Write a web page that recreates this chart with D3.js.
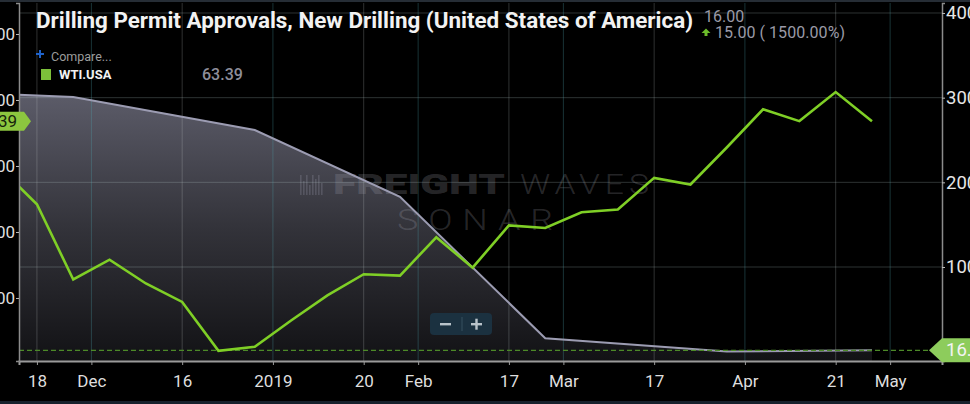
<!DOCTYPE html>
<html>
<head>
<meta charset="utf-8">
<script src="https://cdn.jsdelivr.net/npm/d3@7.9.0/dist/d3.min.js"></script>
<style>
  body { margin: 0; background: #000; overflow: hidden; }
  svg { display: block; font-family: Roboto, "Noto Sans", sans-serif; }
</style>
</head>
<body>
<svg id="chart" width="970" height="404"></svg>
<script>
// weekly WTI closes (left axis)
const wtiDates = [
  '2018-11-11', '2018-11-18', '2018-11-25', '2018-12-02', '2018-12-09',
  '2018-12-16', '2018-12-23', '2018-12-30', '2019-01-06', '2019-01-13',
  '2019-01-20', '2019-01-27', '2019-02-03', '2019-02-10', '2019-02-17',
  '2019-02-24', '2019-03-03', '2019-03-10', '2019-03-17', '2019-03-24',
  '2019-03-31', '2019-04-07', '2019-04-14', '2019-04-21', '2019-04-28'
];
const wtiValues = [
  59.8, 57.1, 51.4, 52.9, 51.1,
  49.7, 46.0, 46.3, 48.3, 50.2,
  51.8, 51.7, 54.6, 52.3, 55.5,
  55.3, 56.5, 56.7, 59.1, 58.6,
  61.4, 64.3, 63.4, 65.6, 63.39
];

// monthly drilling permit approvals (right axis)
const permitDates = ['2018-10-28', '2018-11-25', '2018-12-30', '2019-01-27', '2019-02-24', '2019-03-31', '2019-04-28'];
const permitValues = [3075, 3008, 2618, 1830, 158, 1, 16];

const wtiTicks = [50, 55, 60, 65, 70];
const permitTicks = [1000, 2000, 3000, 4000];
const dayTicks = ['2018-11-18', '2018-12-16', '2019-01-20', '2019-02-17', '2019-03-17', '2019-04-21'];
const monthTicks = ['2018-12-01', '2019-01-01', '2019-02-01', '2019-03-01', '2019-04-01', '2019-05-01'];

const title = 'Drilling Permit Approvals, New Drilling (United States of America)';
const lastPermit = 16.00;
const permitChange = 15.00;
const permitChangePct = 1500.00;

const parse = d3.timeParse('%Y-%m-%d');
const wti = wtiDates.map((d, i) => ({ date: parse(d), value: wtiValues[i] }));
const permits = permitDates.map((d, i) => ({ date: parse(d), value: permitValues[i] }));
const lastWti = wti[wti.length - 1].value;

const width = 970;
const height = 404;
const plot = { left: 19, right: 942, top: 3, bottom: 361 };

const svg = d3.select('#chart');

const x = d3.scaleTime()
  .domain([new Date(2018, 10, 14, 13), new Date(2019, 4, 11, 12)])
  .range([plot.left, plot.right]);

const yL = d3.scaleLinear().domain([45.227, 72.348]).range([plot.bottom, plot.top]);
const yR = d3.scaleLinear().domain([-110, 4118]).range([plot.bottom, plot.top]);

// month labels sit between the two weekly bars that straddle the month change
const ticks = [
  ...dayTicks.map(s => {
    const d = parse(s);
    return { pos: d, label: d3.timeFormat('%-d')(d), kind: 'day' };
  }),
  ...monthTicks.map(s => {
    const d = parse(s);
    return {
      pos: d3.timeHour.offset(d3.timeWeek.floor(d), 84),
      label: d.getMonth() === 0 ? d3.timeFormat('%Y')(d) : d3.timeFormat('%b')(d),
      kind: 'month'
    };
  })
].sort((a, b) => a.pos - b.pos);

// frame strips
svg.append('rect').attr('x', 0).attr('y', 0).attr('width', width).attr('height', 2).attr('fill', '#262d35');
svg.append('rect').attr('x', 0).attr('y', 401).attr('width', width).attr('height', 3).attr('fill', '#17222d');

const defs = svg.append('defs');
defs.append('clipPath').attr('id', 'plot-clip')
  .append('rect')
  .attr('x', plot.left).attr('y', plot.top)
  .attr('width', plot.right - plot.left).attr('height', plot.bottom - plot.top);

const grad = defs.append('linearGradient')
  .attr('id', 'area-grad')
  .attr('gradientUnits', 'userSpaceOnUse')
  .attr('x1', 0).attr('x2', 0)
  .attr('y1', yR(3050)).attr('y2', plot.bottom);
grad.append('stop').attr('offset', 0).attr('stop-color', '#5c5c69');
grad.append('stop').attr('offset', 0.5).attr('stop-color', '#33333a');
grad.append('stop').attr('offset', 1).attr('stop-color', '#121215');

const g = svg.append('g').attr('clip-path', 'url(#plot-clip)');

// permits area
const area = d3.area()
  .x(d => x(d.date))
  .y0(plot.bottom)
  .y1(d => yR(d.value));
g.append('path').datum(permits).attr('d', area).attr('fill', 'url(#area-grad)');

// watermark
const wm = g.append('g').attr('fill', 'rgba(165,165,178,0.24)');
[0, 1, 2, 3, 4, 5, 6, 7].forEach(i => {
  const h = [20, 14, 20, 10, 20, 16, 20, 12][i];
  wm.append('rect').attr('x', 300 + i * 3).attr('y', 195 - h).attr('width', 1.6).attr('height', h);
});
wm.append('text').attr('x', 333).attr('y', 194)
  .attr('font-size', 27).attr('font-weight', 900)
  .attr('textLength', 172).attr('lengthAdjust', 'spacingAndGlyphs')
  .text('FREIGHT');
wm.append('text').attr('x', 520).attr('y', 194)
  .attr('font-size', 27).attr('font-weight', 300).attr('letter-spacing', 4)
  .attr('textLength', 134).attr('lengthAdjust', 'spacingAndGlyphs')
  .text('WAVES');
wm.append('text').attr('x', 397).attr('y', 230)
  .attr('font-size', 29).attr('font-weight', 300).attr('letter-spacing', 8)
  .attr('textLength', 166).attr('lengthAdjust', 'spacingAndGlyphs')
  .text('SONAR');

// gridlines
g.append('g').selectAll('line')
  .data(permitTicks)
  .join('line')
  .attr('x1', plot.left).attr('x2', plot.right)
  .attr('y1', d => yR(d)).attr('y2', d => yR(d))
  .attr('stroke', 'rgba(190,210,210,0.24)');

g.append('g').selectAll('line')
  .data(ticks)
  .join('line')
  .attr('x1', d => x(d.pos)).attr('x2', d => x(d.pos))
  .attr('y1', plot.top).attr('y2', plot.bottom)
  .attr('stroke', d => d.kind === 'month' ? 'rgba(80,170,180,0.3)' : 'rgba(195,205,205,0.24)');

// permits outline
g.append('path').datum(permits)
  .attr('d', d3.line().x(d => x(d.date)).y(d => yR(d.value)))
  .attr('fill', 'none').attr('stroke', '#9c9cb2').attr('stroke-width', 2);

// last-value dashed line
g.append('line')
  .attr('x1', plot.left).attr('x2', 929)
  .attr('y1', yR(lastPermit)).attr('y2', yR(lastPermit))
  .attr('stroke', '#4d8a28').attr('stroke-width', 1.2).attr('stroke-dasharray', '5,3');

// WTI line
g.append('path').datum(wti)
  .attr('d', d3.line().x(d => x(d.date)).y(d => yL(d.value)))
  .attr('fill', 'none').attr('stroke', '#7fcf26').attr('stroke-width', 2.6)
  .attr('stroke-linejoin', 'miter');

// axes
const xAxis = svg.append('g')
  .attr('transform', `translate(0,${plot.bottom})`)
  .call(d3.axisBottom(x)
    .tickValues(ticks.map(t => t.pos))
    .tickFormat((d, i) => ticks[i].label)
    .tickSizeOuter(0).tickSize(4).tickPadding(10));
xAxis.select('.domain').attr('stroke', '#9a9a9a').attr('stroke-width', 2);
xAxis.selectAll('.tick line').attr('stroke', '#9a9a9a');
xAxis.selectAll('text').attr('fill', '#dedede').attr('font-size', 17).attr('font-family', 'Roboto');

const leftAxis = svg.append('g')
  .attr('transform', `translate(${plot.left},0)`)
  .call(d3.axisLeft(yL).tickValues(wtiTicks).tickFormat(d3.format('.2f'))
    .tickSizeOuter(0).tickSize(3).tickPadding(1));
leftAxis.select('.domain').attr('stroke', '#8c8c8c').attr('stroke-width', 1.5);
leftAxis.selectAll('.tick line').attr('stroke', '#bbb');
leftAxis.selectAll('text').attr('fill', '#dedede').attr('font-size', 17).attr('font-family', 'Roboto');

const rightAxis = svg.append('g')
  .attr('transform', `translate(${plot.right},0)`)
  .call(d3.axisRight(yR).tickValues(permitTicks).tickFormat(d3.format('d'))
    .tickSizeOuter(0).tickSize(3).tickPadding(1));
rightAxis.select('.domain').attr('stroke', '#8c8c8c').attr('stroke-width', 1.5);
rightAxis.selectAll('.tick line').attr('stroke', '#bbb');
rightAxis.selectAll('text').attr('fill', '#e6e6e6').attr('font-size', 18.5).attr('font-family', 'Roboto');

// value tags
const ty = yL(lastWti);
svg.append('polygon')
  .attr('points', [[0, ty - 9.5], [24, ty - 9.5], [31, ty], [24, ty + 9.5], [0, ty + 9.5]].join(' '))
  .attr('fill', '#8cc63f');
svg.append('text').attr('x', 17).attr('y', ty + 6)
  .attr('text-anchor', 'end').attr('font-size', 17).attr('fill', '#17230c')
  .text(d3.format('.2f')(lastWti));

const ry = yR(lastPermit);
svg.append('polygon')
  .attr('points', [[929, ry], [942, ry - 12], [970, ry - 12], [970, ry + 12], [942, ry + 12]].join(' '))
  .attr('fill', '#8dcc5c');
svg.append('text').attr('x', 946).attr('y', ry + 6)
  .attr('font-size', 18.5).attr('fill', '#f4f4f4')
  .text(d3.format('.2f')(lastPermit));

// zoom buttons
const zb = svg.append('g');
zb.append('rect').attr('x', 430).attr('y', 313).attr('width', 62).attr('height', 22).attr('rx', 4).attr('fill', '#1b3140');
zb.append('line').attr('x1', 462).attr('x2', 462).attr('y1', 317).attr('y2', 331).attr('stroke', '#36505f');
zb.append('rect').attr('x', 440).attr('y', 323).attr('width', 11).attr('height', 2.4).attr('fill', '#b9c3ca');
zb.append('rect').attr('x', 471).attr('y', 323).attr('width', 11).attr('height', 2.4).attr('fill', '#b9c3ca');
zb.append('rect').attr('x', 475.3).attr('y', 318.7).attr('width', 2.4).attr('height', 11).attr('fill', '#b9c3ca');

// header
svg.append('text').attr('x', 36).attr('y', 28)
  .attr('font-size', 22).attr('font-weight', 700).attr('fill', '#f2f2f2')
  .attr('textLength', 657).attr('lengthAdjust', 'spacingAndGlyphs')
  .text(title);

svg.append('text').attr('x', 704).attr('y', 22)
  .attr('font-size', 16).attr('fill', '#9a9aa7')
  .text(d3.format('.2f')(lastPermit));
svg.append('polygon')
  .attr('points', '706,28.5 701.5,33 704.5,33 704.5,36 707.5,36 707.5,33 710.5,33')
  .attr('fill', '#6cbc2a');
svg.append('text').attr('x', 715).attr('y', 38)
  .attr('font-size', 16).attr('fill', '#9a9aa7')
  .attr('textLength', 130).attr('lengthAdjust', 'spacing')
  .text(`${d3.format('.2f')(permitChange)} ( ${d3.format('.2f')(permitChangePct)}%)`);

svg.append('rect').attr('x', 36).attr('y', 53).attr('width', 8).attr('height', 2).attr('fill', '#1f62c9');
svg.append('rect').attr('x', 39).attr('y', 50).attr('width', 2).attr('height', 8).attr('fill', '#1f62c9');
svg.append('text').attr('x', 51).attr('y', 61)
  .attr('font-size', 12.5).attr('fill', '#9c9c9c')
  .text('Compare...');

svg.append('rect').attr('x', 41).attr('y', 69).attr('width', 10).attr('height', 11).attr('fill', '#7cc03a');
svg.append('text').attr('x', 59).attr('y', 79)
  .attr('font-size', 13).attr('font-weight', 700).attr('fill', '#f2f2f2')
  .text('WTI.USA');
svg.append('text').attr('x', 202).attr('y', 80)
  .attr('font-size', 16).attr('font-weight', 500).attr('fill', '#8e8e9a')
  .text(d3.format('.2f')(lastWti));
</script>
</body>
</html>
